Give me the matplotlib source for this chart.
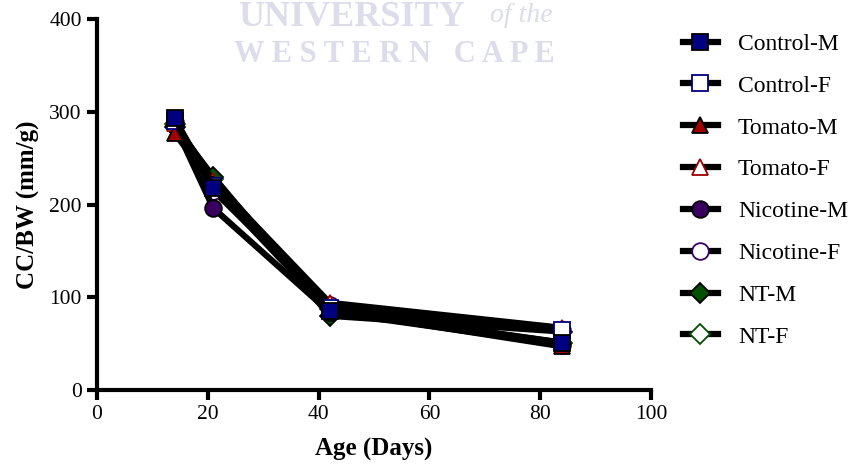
import matplotlib
matplotlib.use("Agg")
import matplotlib.pyplot as plt
from matplotlib.lines import Line2D

days = [14, 21, 42, 84]
series_names = ["Control-M", "Control-F", "Tomato-M", "Tomato-F",
                "Nicotine-M", "Nicotine-F", "NT-M", "NT-F"]
control_m = [293, 218, 85, 51]
control_f = [290, 220, 88, 65]
tomato_m = [277, 222, 86, 47]
tomato_f = [288, 225, 94, 67]
nicotine_m = [286, 196, 84, 49]
nicotine_f = [289, 215, 92, 65]
nt_m = [284, 230, 80, 63]
nt_f = [287, 228, 87, 51]
values = [control_m, control_f, tomato_m, tomato_f, nicotine_m, nicotine_f, nt_m, nt_f]

x_ticks = [0, 20, 40, 60, 80, 100]
y_ticks = [0, 100, 200, 300, 400]

styles = [
    dict(marker="s", mfc="#000080", mec="#000000"),
    dict(marker="s", mfc="white", mec="#000080"),
    dict(marker="^", mfc="#a00000", mec="#000000"),
    dict(marker="^", mfc="white", mec="#a00000"),
    dict(marker="o", mfc="#3a0060", mec="#000000"),
    dict(marker="o", mfc="white", mec="#3a0060"),
    dict(marker="D", mfc="#005000", mec="#000000"),
    dict(marker="D", mfc="white", mec="#005000"),
]
msizes = {"s": 12, "^": 12, "o": 12, "D": 10}

plt.rcParams["font.family"] = ["Liberation Serif", "DejaVu Serif"]

fig = plt.figure(figsize=(8.5, 4.7), dpi=100)
ax = fig.add_axes([97/850, 80/470, (651-97)/850, (390-19)/470])

for i in reversed(range(len(values))):
    st = styles[i]
    ax.plot(days, values[i], color="black", lw=4.5, marker=st["marker"],
            ms=msizes[st["marker"]], mfc=st["mfc"], mec=st["mec"], mew=1.3,
            clip_on=False, zorder=3 + (len(values) - i))

ax.set_xlim(0, 100)
ax.set_ylim(0, 400)
ax.set_xticks(x_ticks)
ax.set_yticks(y_ticks)
for s in ["top", "right"]:
    ax.spines[s].set_visible(False)
for s in ["left", "bottom"]:
    ax.spines[s].set_linewidth(3)
ax.tick_params(axis="both", width=3, length=7, labelsize=15.5, pad=4, color="black")
ax.set_xlabel("Age (Days)", fontsize=18, fontweight="bold", labelpad=10)
ax.set_ylabel("CC/BW (mm/g)", fontsize=18, fontweight="bold", labelpad=7)

leg_handles = []
for st in styles:
    leg_handles.append(Line2D([0], [0], color="black", lw=4.5, marker=st["marker"],
                              ms=msizes[st["marker"]], mfc=st["mfc"], mec=st["mec"], mew=1.3))
fig.legend(leg_handles, series_names, loc="upper left", bbox_to_anchor=(0.8035, 0.929),
           frameon=False, fontsize=17, handlelength=1.48, handletextpad=0.85,
           labelspacing=0.86, borderaxespad=0, borderpad=0)

wm = "#dcdcea"
fig.text(0.28, 0.998, "UNIVERSITY", fontsize=26, fontweight="bold", color=wm,
         ha="left", va="top")
fig.text(0.576, 0.993, "of the", fontsize=20, fontstyle="italic", color=wm,
         ha="left", va="top")
fig.text(0.4635, 0.883, "W E S T E R N   C A P E", fontsize=22, fontweight="bold",
         color=wm, ha="center", va="center")

fig.savefig("out.png", dpi=100)
